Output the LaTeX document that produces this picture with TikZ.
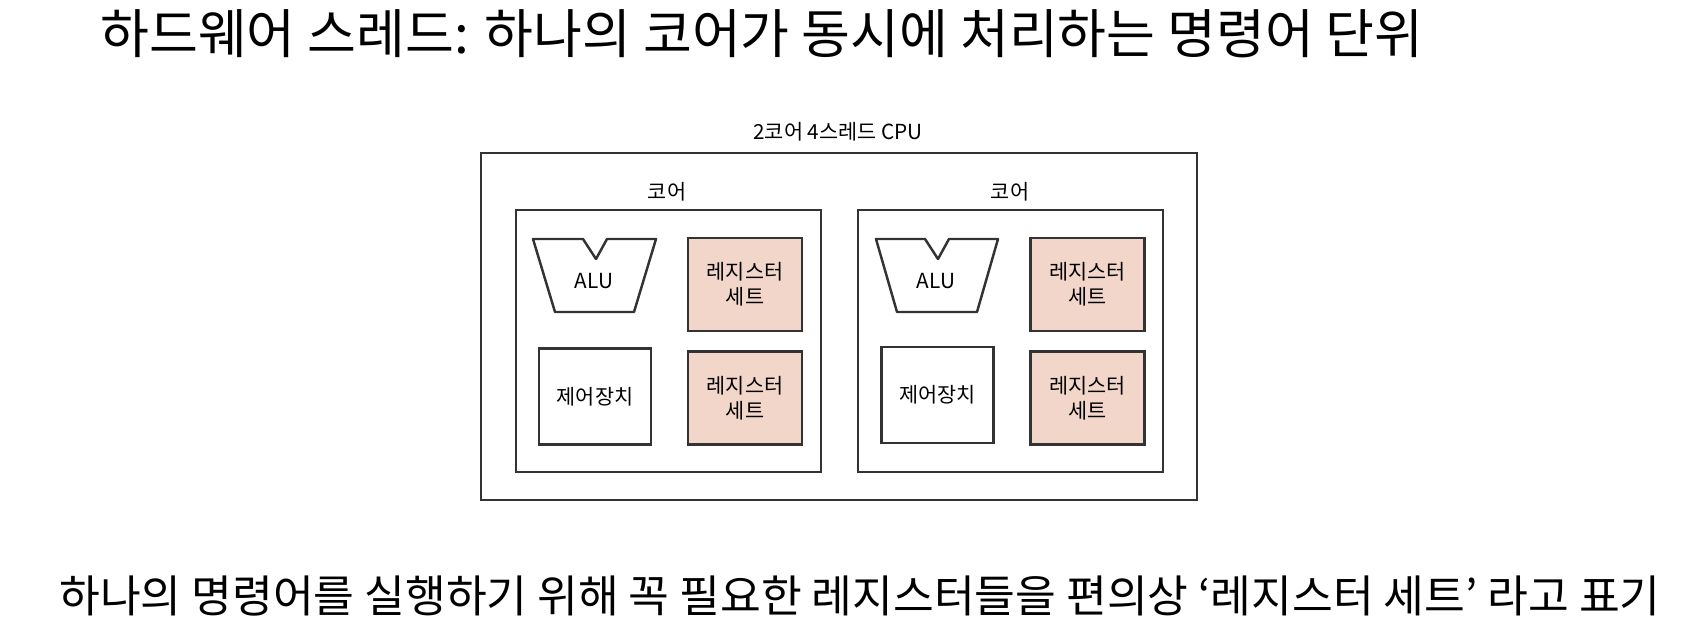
\documentclass[tikz,border=0pt]{standalone}
\usepackage{fontspec}
\setmainfont{Noto Sans CJK KR}
\usepackage{xcolor}
\usetikzlibrary{positioning}
\definecolor{regfill}{HTML}{F2D6CA}
\definecolor{inkline}{HTML}{333333}
\tikzset{
  Cbox/.style={draw=inkline, line width=0.7pt, inner sep=0pt, anchor=center},
  Rbox/.style={draw=inkline, line width=0.7pt, fill=regfill, align=center,
               font=\fontsize{5.9}{7.1}\selectfont, inner sep=0pt,
               minimum width=1.14cm, minimum height=0.93cm},
  Kbox/.style={draw=inkline, line width=0.7pt, align=center,
               font=\fontsize{5.9}{7.1}\selectfont, inner sep=0pt,
               minimum width=1.12cm, minimum height=0.96cm},
  Lbl/.style={font=\fontsize{5.9}{7.1}\selectfont, inner sep=0pt},
  Alu/.style={draw=inkline, line width=0.7pt, line join=round}
}

\begin{document}
\begin{tikzpicture}[x=0.01cm, y=-0.01cm]
  \useasboundingbox (0,0) rectangle (1706,639);

  \node[font=\fontsize{15.1}{17}\selectfont, inner sep=0pt] (head) at (762,34)
    {하드웨어 스레드: 하나의 코어가 동시에 처리하는 명령어 단위};

  \node[Lbl] (cputag) at (838,132) {2코어 4스레드 CPU};
  \node[Cbox, minimum width=7.16cm, minimum height=3.47cm] (cpu) at (839,326.5) {};

  \node[Lbl] (tagA) at (667,192) {코어};
  \node[Cbox, minimum width=3.05cm, minimum height=2.62cm] (coreA) at (668.5,341) {};

  \draw[Alu] (533,239) -- (583,239) -- (596,259) -- (607,239) -- (656,239)
    -- (634,312) -- (555,312) -- cycle;
  \node[Lbl] (aluA) at (594,281) {ALU};
  \node[Rbox] (regA1) at (745,284.5) {레지스터\\세트};
  \node[Kbox] (ctlA) at (595,396.5) {제어장치};
  \node[Rbox] (regA2) at (745,398) {레지스터\\세트};

  \node[Lbl] (tagB) at (1010,192) {코어};
  \node[Cbox, minimum width=3.05cm, minimum height=2.62cm] (coreB) at (1010.5,341) {};

  \draw[Alu] (876,239) -- (925,239) -- (938,259) -- (949,239) -- (998,239)
    -- (977,312) -- (897,312) -- cycle;
  \node[Lbl] (aluB) at (936,281) {ALU};
  \node[Rbox] (regB1) at (1087.5,284.5) {레지스터\\세트};
  \node[Kbox] (ctlB) at (937.5,395) {제어장치};
  \node[Rbox] (regB2) at (1087.5,398) {레지스터\\세트};

  \node[font=\fontsize{12.6}{15}\selectfont, inner sep=0pt] (foot) at (860,596)
    {하나의 명령어를 실행하기 위해 꼭 필요한 레지스터들을 편의상 ‘레지스터 세트’ 라고 표기};
\end{tikzpicture}
\end{document}
